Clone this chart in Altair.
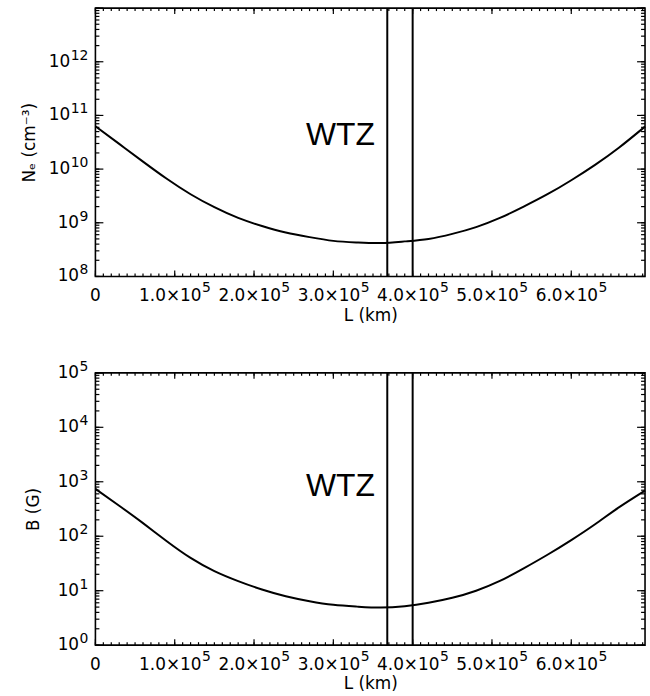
import altair as alt
import pandas as pd

# ---------------- data ----------------
L_km = [0.0, 0.3e5, 0.6e5, 0.9e5, 1.2e5, 1.5e5, 1.8e5, 2.1e5, 2.4e5, 2.7e5,
        3.0e5, 3.3e5, 3.6e5, 3.9e5, 4.2e5, 4.5e5, 4.8e5, 5.1e5, 5.4e5, 5.7e5,
        6.0e5, 6.3e5, 6.6e5, 6.93e5]
ne_cm3 = [6.3e10, 2.95e10, 1.38e10, 6.6e9, 3.4e9, 1.95e9, 1.23e9, 8.7e8, 6.6e8, 5.4e8,
          4.6e8, 4.3e8, 4.2e8, 4.5e8, 5.0e8, 6.2e8, 8.3e8, 1.23e9, 2.0e9, 3.4e9,
          6.2e9, 1.2e10, 2.5e10, 6.2e10]
b_gauss = [740, 363, 174, 81, 40, 22.9, 15.0, 10.5, 7.9, 6.4,
           5.5, 5.1, 4.9, 5.2, 6.0, 7.4, 10.0, 15.1, 25.7, 45.7,
           85, 166, 339, 690]

wtz_edges = [3.68e5, 4.0e5]
wtz_text = "WTZ"
wtz_x = 3.6e5
wtz_y_ne = 4.4e10
wtz_y_b = 830

L_domain = [0.0, 6.93e5]
x_tick_values = [0, 1e5, 2e5, 3e5, 4e5, 5e5, 6e5]
x_tick_mantissas = ["0", "1.0", "2.0", "3.0", "4.0", "5.0", "6.0"]
x_tick_exponent = "5"
x_title = "L (km)"

ne_domain = [1e8, 1e13]
ne_tick_values = [1e8, 1e9, 1e10, 1e11, 1e12]
ne_tick_exponents = ["8", "9", "10", "11", "12"]
ne_title = "Nₑ (cm⁻³)"

b_domain = [1.0, 1e5]
b_tick_values = [1.0, 10.0, 100.0, 1e3, 1e4, 1e5]
b_tick_exponents = ["0", "1", "2", "3", "4", "5"]
b_title = "B (G)"

# ---------------- styling ----------------
FONT = "DejaVu Sans"
WTZ_FONT = "Liberation Sans"
BASE_FS = 17
EXP_FS = 14
EXPW = 8.9          # width of one exponent digit
W = 553
MAJ, MIN = 8, 4


def x_minor_positions():
    return [i * 1e4 for i in range(0, 70)]


def log_minor_positions(dom):
    lo, hi = dom
    out = []
    d = lo
    while d < hi * 0.999:
        for k in range(1, 10):
            v = k * d
            if v <= hi * 1.0001:
                out.append(v)
        d *= 10
    out.append(hi)
    return out


def panel(yvals, ydomain, ytick_vals, ytick_exps, ytitle, wtz_y, y_title_pad, H):
    xs = alt.Scale(domain=L_domain, nice=False, zero=False)
    ys = alt.Scale(type="log", domain=ydomain, nice=False)
    xaxis = alt.Axis(values=x_tick_values, title=x_title, labels=False, ticks=False,
                     domain=False, grid=False, titlePadding=31)
    yaxis = alt.Axis(values=ytick_vals, title=ytitle, labels=False, ticks=False,
                     domain=False, grid=False, titlePadding=y_title_pad)

    def X():
        return alt.X("L:Q", scale=xs, axis=xaxis)

    def Y():
        return alt.Y("val:Q", scale=ys, axis=yaxis)

    df = pd.DataFrame({"L": L_km, "val": yvals})
    line = alt.Chart(df).mark_line(color="black", strokeWidth=2, interpolate="natural").encode(
        x=X(), y=Y()
    )
    rules = alt.Chart(pd.DataFrame({"L": wtz_edges})).mark_rule(color="black", strokeWidth=2).encode(
        x=X()
    )
    text = alt.Chart(pd.DataFrame({"L": [wtz_x], "val": [wtz_y], "t": [wtz_text]})).mark_text(
        align="right", baseline="middle", font=WTZ_FONT, fontSize=32, color="black", dx=-6
    ).encode(x=X(), y=Y(), text="t:N")

    layers = [line, rules, text]

    # inward ticks on all four sides
    xmaj = pd.DataFrame({"L": x_tick_values})
    xmin = pd.DataFrame({"L": x_minor_positions()})
    for d, ln in ((xmaj, MAJ - 2), (xmin, MIN - 1)):
        for top in (False, True):
            layers.append(
                alt.Chart(d).mark_rule(color="black", strokeWidth=1.2).encode(
                    x=X(),
                    y=alt.value(0 if top else H),
                    y2=alt.value(ln if top else H - ln),
                )
            )
    ymaj = pd.DataFrame({"val": ytick_vals + [ydomain[1]]})
    ymin = pd.DataFrame({"val": log_minor_positions(ydomain)})
    for d, ln in ((ymaj, MAJ), (ymin, MIN)):
        for right in (False, True):
            layers.append(
                alt.Chart(d).mark_rule(color="black", strokeWidth=1.2).encode(
                    y=Y(),
                    x=alt.value(W if right else 0),
                    x2=alt.value(W - ln if right else ln),
                )
            )

    # y tick labels: "10" with a raised exponent
    for n in (1, 2):
        sel = [(v, e) for v, e in zip(ytick_vals, ytick_exps) if len(e) == n]
        if not sel:
            continue
        d = pd.DataFrame({"val": [s[0] for s in sel], "b": ["10"] * len(sel),
                          "e": [s[1] for s in sel]})
        layers.append(
            alt.Chart(d).mark_text(align="right", baseline="middle", font=FONT,
                                   fontSize=BASE_FS, color="black",
                                   dx=-(7 + n * EXPW + 0.5)).encode(
                x=alt.value(0), y=Y(), text="b:N")
        )
        layers.append(
            alt.Chart(d).mark_text(align="right", baseline="middle", font=FONT,
                                   fontSize=EXP_FS, color="black", dx=-7, dy=-6).encode(
                x=alt.value(0), y=Y(), text="e:N")
        )

    # x tick labels: "n.0×10" with a raised exponent, and a plain "0"
    xl = pd.DataFrame({
        "L": x_tick_values[1:],
        "b": [m + "×10" for m in x_tick_mantissas[1:]],
        "e": [x_tick_exponent] * (len(x_tick_values) - 1),
    })
    layers.append(
        alt.Chart(xl).mark_text(align="right", baseline="middle", font=FONT,
                                fontSize=BASE_FS, color="black", dx=27).encode(
            x=X(), y=alt.value(H + 20), text="b:N")
    )
    layers.append(
        alt.Chart(xl).mark_text(align="left", baseline="middle", font=FONT,
                                fontSize=EXP_FS, color="black", dx=27.5).encode(
            x=X(), y=alt.value(H + 12), text="e:N")
    )
    x0 = pd.DataFrame({"L": x_tick_values[:1], "b": x_tick_mantissas[:1]})
    layers.append(
        alt.Chart(x0).mark_text(align="center", baseline="middle", font=FONT,
                                fontSize=BASE_FS, color="black").encode(
            x=X(), y=alt.value(H + 20), text="b:N")
    )
    return alt.layer(*layers).properties(width=W, height=H)


top = panel(ne_cm3, ne_domain, ne_tick_values, ne_tick_exponents, ne_title, wtz_y_ne, 57, 270)
bottom = panel(b_gauss, b_domain, b_tick_values, b_tick_exponents, b_title, wtz_y_b, 53, 274)

chart = alt.vconcat(top, bottom, spacing=35).properties(
    padding={"left": 20, "top": 4, "right": 0, "bottom": 0}
).configure(
    background="white"
).configure_view(
    stroke="black", strokeWidth=1.6
).configure_axis(
    titleFont=FONT, titleFontSize=17, titleColor="black", titleFontWeight="normal"
)

chart.save("out.html", embed_options={"renderer": "svg", "actions": False})
